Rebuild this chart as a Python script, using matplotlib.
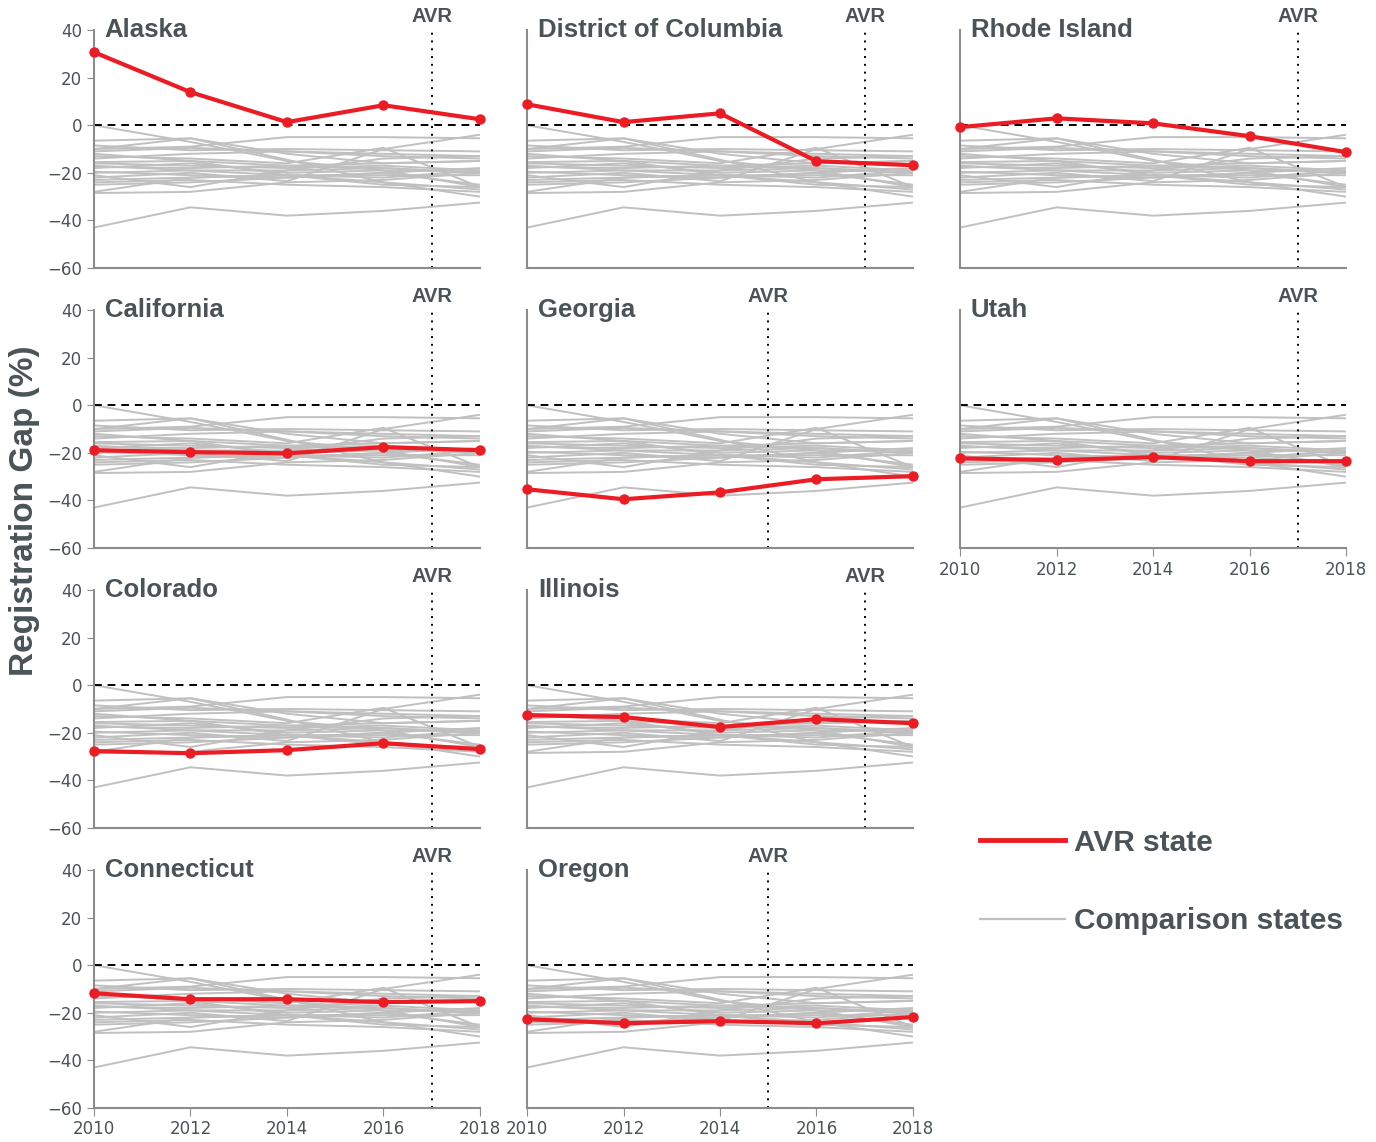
import matplotlib.pyplot as plt
from matplotlib.lines import Line2D

years = [2010, 2012, 2014, 2016, 2018]

# AVR states: name, year AVR took effect, registration gap by year
states = ["Alaska", "District of Columbia", "Rhode Island",
          "California", "Georgia", "Utah",
          "Colorado", "Illinois",
          "Connecticut", "Oregon"]
avr_year = [2017, 2017, 2017,
            2017, 2015, 2017,
            2017, 2017,
            2017, 2015]
avr_gap = [
    [30.7, 13.9, 1.3, 8.4, 2.5],
    [8.8, 1.3, 5.0, -15.1, -16.8],
    [-0.8, 2.9, 0.8, -4.6, -11.3],
    [-18.9, -19.7, -20.2, -17.6, -18.9],
    [-35.3, -39.5, -36.6, -31.1, -29.8],
    [-22.3, -23.1, -21.8, -23.5, -23.5],
    [-27.7, -28.6, -27.3, -24.4, -26.9],
    [-12.6, -13.4, -17.6, -14.3, -16.0],
    [-11.8, -14.3, -14.3, -15.5, -15.1],
    [-22.7, -24.4, -23.5, -24.4, -21.8],
]

# comparison (non-AVR) states, same in every panel
comparison_gap = [
    [0.0, -7.0, -15.0, -19.0, -26.0],
    [-43.0, -34.5, -38.0, -36.0, -32.5],
    [-10.0, -9.0, -5.0, -5.0, -5.5],
    [-6.5, -5.5, -12.0, -16.0, -15.0],
    [-8.5, -10.5, -10.0, -10.5, -11.0],
    [-10.0, -5.5, -14.5, -24.0, -30.0],
    [-11.0, -9.5, -11.0, -12.0, -13.0],
    [-13.0, -14.0, -16.0, -9.5, -26.0],
    [-15.5, -15.0, -17.0, -18.0, -20.0],
    [-16.0, -17.0, -18.0, -17.0, -19.0],
    [-17.0, -19.0, -19.0, -18.0, -20.0],
    [-18.0, -16.0, -20.0, -19.0, -19.5],
    [-19.5, -21.0, -22.0, -20.0, -18.0],
    [-21.0, -26.0, -19.0, -14.0, -13.0],
    [-22.0, -20.0, -23.5, -10.0, -4.0],
    [-23.0, -22.0, -21.0, -24.0, -27.0],
    [-24.0, -23.0, -25.0, -26.0, -28.0],
    [-28.5, -28.0, -24.0, -23.0, -20.0],
    [-28.0, -22.0, -21.0, -25.0, -26.0],
    [-17.5, -18.0, -17.0, -16.0, -15.0],
    [-14.0, -12.0, -11.0, -13.0, -14.0],
    [-20.0, -19.0, -21.0, -21.0, -21.0],
    [-12.0, -15.0, -21.0, -22.0, -19.0],
    [-25.0, -24.0, -22.0, -20.0, -25.0],
]

yticks = [-60, -40, -20, 0, 20, 40]

RED = "#ec1c24"
GRAY = "#c0c0c0"
TXT = "#4a5357"
SPINE = "#8c8c8c"
NARROW = ["Liberation Sans Narrow", "DejaVu Sans"]
BOLD = ["Liberation Sans", "DejaVu Sans"]

fig = plt.figure(figsize=(13.76, 11.42), dpi=100)

lefts = [0.0683, 0.3830, 0.6977]
bottoms = [0.7653, 0.5201, 0.2750, 0.0298]
w, h = 0.2805, 0.2084
slots = [(0, 0), (0, 1), (0, 2), (1, 0), (1, 1), (1, 2), (2, 0), (2, 1), (3, 0), (3, 1)]
# panels that carry x tick labels
xlabelled = {"Utah", "Connecticut", "Oregon"}

for name, avr, gap, (r, c) in zip(states, avr_year, avr_gap, slots):
    ax = fig.add_axes([lefts[c], bottoms[r], w, h])
    for g in comparison_gap:
        ax.plot(years, g, color=GRAY, lw=1.4, zorder=1)
    ax.axhline(0, color="black", ls=(0, (4, 3)), lw=1.4, zorder=2)
    ax.axvline(avr, color="black", ls=(0, (1, 3)), lw=1.4, ymax=0.99, zorder=2)
    ax.plot(years, gap, color=RED, lw=3, marker="o", ms=6.5, zorder=3, clip_on=False)

    ax.set_xlim(2010, 2018)
    ax.set_ylim(-60, 40)
    for s in ["top", "right"]:
        ax.spines[s].set_visible(False)
    for s in ["left", "bottom"]:
        ax.spines[s].set_color(SPINE)
        ax.spines[s].set_linewidth(1.5)

    if c == 0:
        ax.set_yticks(yticks)
        ax.tick_params(axis="y", length=5, color=SPINE, labelcolor=TXT, labelsize=12)
        for lab in ax.get_yticklabels():
            lab.set_family(NARROW)
    else:
        ax.set_yticks([])

    if name in xlabelled:
        ax.set_xticks(years)
        ax.tick_params(axis="x", length=6, color=SPINE, labelcolor=TXT, labelsize=12, pad=3)
        for lab in ax.get_xticklabels():
            lab.set_family(NARROW)
    else:
        ax.set_xticks([])

    ax.text(0.028, 1.0, name, transform=ax.transAxes, ha="left", va="center",
            fontsize=18.5, fontweight="bold", color=TXT, family=BOLD)
    ax.annotate("AVR", xy=(avr, 1.0), xycoords=("data", "axes fraction"),
                xytext=(0, 9.5), textcoords="offset points", ha="center", va="center",
                fontsize=14.5, fontweight="bold", color=TXT, family=BOLD)

fig.text(0.018, 0.553, "Registration Gap (%)", rotation=90, ha="center", va="center",
         fontsize=24, fontweight="bold", color=TXT, family=BOLD)

handles = [Line2D([], [], color=RED, lw=3.5),
           Line2D([], [], color=GRAY, lw=1.6)]
leg = fig.legend(handles, ["AVR state", "Comparison states"], loc="upper left",
                 bbox_to_anchor=(0.6926, 0.298), frameon=False, handlelength=2.85,
                 handletextpad=0.3, labelspacing=1.7,
                 prop={"family": BOLD, "weight": "bold", "size": 21.5})
for t in leg.get_texts():
    t.set_color(TXT)

fig.savefig("out.png", dpi=100)
